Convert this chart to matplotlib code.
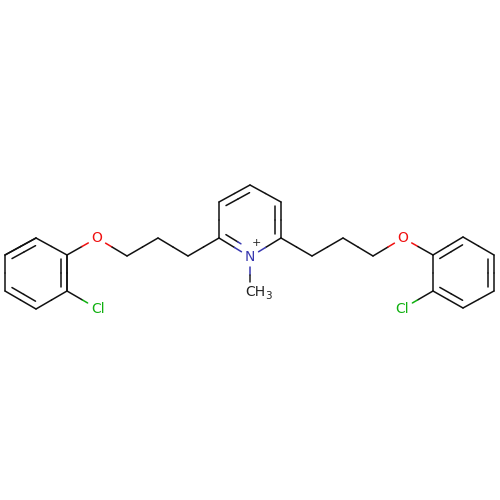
import numpy as np
import matplotlib
matplotlib.use("Agg")
import matplotlib.pyplot as plt

# atom positions
atom_x = [5, 36, 67, 67, 36, 5, 98, 97, 127, 158, 188, 219, 219, 250, 281, 281, 250, 250,
          312, 343, 373, 403, 433, 463, 494, 494, 463, 433, 402]
atom_y = [255, 238, 255, 291, 309, 291, 309, 238, 256, 238, 256, 238, 202, 185, 202, 238, 257, 292,
          256, 238, 256, 238, 255, 237, 255, 291, 308, 291, 309]
atom_element = ["C", "C", "C", "C", "C", "C", "Cl", "O", "C", "C", "C", "C", "C", "C", "C", "C", "N", "CH3",
                "C", "C", "C", "O", "C", "C", "C", "C", "C", "C", "Cl"]

single_bonds = [(0, 1), (2, 3), (3, 4), (5, 0), (1, 2), (3, 6), (2, 7), (7, 8), (8, 9), (9, 10), (10, 11),
                (11, 12), (13, 14), (15, 16), (16, 17), (15, 18), (18, 19), (19, 20), (20, 21), (21, 22),
                (22, 27), (23, 24), (25, 26), (27, 28)]
# (from, to, ring centre)
double_bonds = [(0, 1, (36, 273)), (2, 3, (36, 273)), (4, 5, (36, 273)),
                (12, 13, (250, 220)), (14, 15, (250, 220)), (11, 16, (250, 220)),
                (22, 23, (463, 273)), (24, 25, (463, 273)), (26, 27, (463, 273))]

colors = {"C": "#111111", "O": "#f01010", "N": "#3838b0", "Cl": "#10b010", "CH3": "#222222"}
gap = {"C": 0, "O": 10, "N": 10, "Cl": 12, "CH3": 10}
lw = 1.1

fig = plt.figure(figsize=(5, 5), dpi=100)
ax = fig.add_axes([0, 0, 1, 1])
ax.set_xlim(0, 500)
ax.set_ylim(500, 0)
ax.axis("off")


def draw_bond(p, q, ea, eb):
    # each half takes the colour of its own atom, trimmed where a label sits
    p = np.array(p, dtype=float)
    q = np.array(q, dtype=float)
    d = (q - p) / np.linalg.norm(q - p)
    mid = (p + q) / 2
    a = p + d * gap[ea]
    b = q - d * gap[eb]
    ax.plot([a[0], mid[0]], [a[1], mid[1]], color=colors[ea], lw=lw, solid_capstyle="round")
    ax.plot([mid[0], b[0]], [mid[1], b[1]], color=colors[eb], lw=lw, solid_capstyle="round")


for i, j in single_bonds:
    draw_bond((atom_x[i], atom_y[i]), (atom_x[j], atom_y[j]), atom_element[i], atom_element[j])

for i, j, c in double_bonds:
    p = np.array([atom_x[i], atom_y[i]], dtype=float)
    q = np.array([atom_x[j], atom_y[j]], dtype=float)
    draw_bond(p, q, atom_element[i], atom_element[j])
    # inner line of the double bond
    m = (p + q) / 2
    to_c = np.array(c) - m
    to_c = to_c / np.linalg.norm(to_c)
    d = q - p
    draw_bond(p + to_c * 6.5 + d * 0.12, q + to_c * 6.5 - d * 0.12, atom_element[i], atom_element[j])

for x, y, e in zip(atom_x, atom_y, atom_element):
    if e == "C":
        continue
    if e == "CH3":
        ax.text(x - 5, y, "CH", color=colors[e], fontsize=10, ha="left", va="center", family="DejaVu Sans")
        ax.text(x + 15.5, y + 4, "3", color=colors[e], fontsize=7.5, ha="left", va="center", family="DejaVu Sans")
    else:
        ax.text(x, y, e, color=colors[e], fontsize=10, ha="center", va="center", family="DejaVu Sans")
ax.text(256, 243, "+", color="#222222", fontsize=8, ha="center", va="center", family="DejaVu Sans")

fig.savefig("out.png", dpi=100)
